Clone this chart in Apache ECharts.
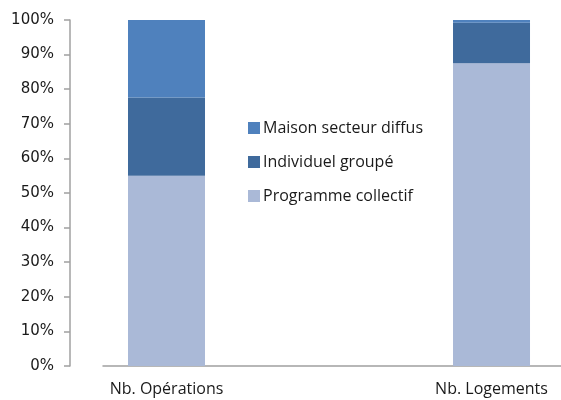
<!DOCTYPE html>
<html lang="fr">
<head>
    <meta charset="UTF-8">
    <title>Répartition</title>
    <script src="https://cdn.jsdelivr.net/npm/echarts@6/dist/echarts.min.js"></script>
    <style>
        html, body { margin: 0; padding: 0; background: #fff; }
        #main { width: 561px; height: 400px; }
    </style>
</head>
<body>
    <div id="main"></div>
    <script type="text/javascript">
        // categories (positions 1 and 2 on the x axis)
        var categories = ['Nb. Opérations', 'Nb. Logements'];
        // parts en %
        var collectif = [55.0, 87.5];
        var groupe = [22.6, 11.7];
        var diffus = [22.4, 0.8];
        var yTicks = [0, 10, 20, 30, 40, 50, 60, 70, 80, 90, 100];

        // value first so that it is the stacked dimension
        function pairs(vals) {
            return vals.map(function (v, i) { return [v, i + 1]; });
        }

        var myChart = echarts.init(document.getElementById('main'));
        var option = {
            animation: false,
            textStyle: { fontFamily: 'DejaVu Sans' },
            grid: { left: 103, right: 0, top: 20, bottom: 34 },
            legend: {
                orient: 'vertical',
                left: 243,
                top: 115,
                itemWidth: 12,
                itemHeight: 12,
                itemGap: 18,
                icon: 'rect',
                textStyle: { fontFamily: 'Open Sans', fontSize: 16, color: '#1a1a1a', padding: [0, 0, 0, -2] },
                data: ['Maison secteur diffus', 'Individuel groupé', 'Programme collectif']
            },
            xAxis: {
                type: 'value',
                min: 0.8046,
                max: 2.2138,
                splitLine: { show: false },
                axisLine: { show: true, lineStyle: { color: '#a0a0a0', width: 1.5 } },
                axisTick: { show: false },
                axisLabel: {
                    customValues: [1, 2],
                    formatter: function (v) { return categories[Math.round(v) - 1] || ''; },
                    fontFamily: 'Open Sans',
                    fontSize: 16,
                    color: '#1a1a1a',
                    margin: 15
                }
            },
            yAxis: {
                type: 'value',
                min: 0,
                max: 100,
                interval: 10,
                offset: 33,
                splitLine: { show: false },
                axisLine: { show: true, lineStyle: { color: '#a0a0a0', width: 1.5 } },
                axisTick: { show: true, length: 6, lineStyle: { color: '#a0a0a0', width: 1.5 } },
                axisLabel: {
                    formatter: function (v) { return yTicks.indexOf(v) >= 0 ? v + '%' : ''; },
                    fontSize: 15,
                    color: '#1a1a1a',
                    margin: 16
                }
            },
            series: [
                {
                    name: 'Programme collectif', type: 'bar', stack: 'total', barWidth: 77,
                    encode: { x: 1, y: 0 },
                    itemStyle: { color: '#aab9d7' }, data: pairs(collectif)
                },
                {
                    name: 'Individuel groupé', type: 'bar', stack: 'total', barWidth: 77,
                    encode: { x: 1, y: 0 },
                    itemStyle: { color: '#3f6a9c' }, data: pairs(groupe)
                },
                {
                    name: 'Maison secteur diffus', type: 'bar', stack: 'total', barWidth: 77,
                    encode: { x: 1, y: 0 },
                    itemStyle: { color: '#4f81bd' }, data: pairs(diffus)
                }
            ]
        };
        myChart.setOption(option);
    </script>
</body>
</html>
